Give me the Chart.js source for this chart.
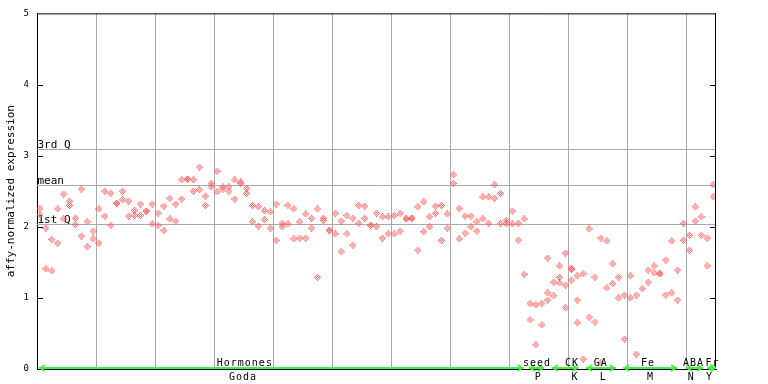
<!DOCTYPE html>
<html>
<head>
<meta charset="utf-8">
<script src="https://cdn.jsdelivr.net/npm/chart.js@4/dist/chart.umd.min.js"></script>
<style>
  html, body { margin: 0; padding: 0; background: #fff; }
</style>
</head>
<body>
<canvas id="myChart" width="768" height="384"></canvas>
<script>
// values per sample (two replicates per sample)
const seriesA = [2.26,1.98,1.82,2.25,2.46,2.36,2.12,2.53,2.07,1.94,
  2.25,2.50,2.47,2.33,2.50,2.36,2.23,2.32,2.22,2.32,
  2.19,2.29,2.40,2.32,2.66,2.67,2.66,2.84,2.43,2.61,
  2.78,2.56,2.56,2.66,2.63,2.54,2.30,2.28,2.23,2.21,
  2.32,2.05,2.30,2.25,2.07,2.18,2.12,2.25,2.12,1.95,
  2.19,2.08,2.16,2.12,2.30,2.29,2.02,2.19,2.14,2.14,
  2.16,2.19,2.11,2.12,2.28,2.35,2.14,2.29,2.30,2.18,
  2.73,2.26,2.15,2.15,2.07,2.42,2.42,2.59,2.47,2.09,
  2.22,2.05,2.11,0.92,0.90,0.92,1.56,1.22,1.45,1.63,
  1.42,1.31,1.34,1.97,1.29,1.84,1.80,1.48,1.29,1.04,
  1.31,1.04,1.13,1.39,1.45,1.34,1.53,1.80,1.39,2.05,
  1.88,2.28,2.14,1.84,2.59];
const seriesB = [2.17,1.41,1.38,1.77,2.11,2.30,2.03,1.87,1.72,1.83,
  1.77,2.15,2.02,2.33,2.38,2.15,2.16,2.16,2.22,2.04,
  2.02,1.95,2.11,2.08,2.39,2.67,2.50,2.52,2.30,2.56,
  2.49,2.53,2.50,2.39,2.61,2.47,2.07,2.01,2.10,1.98,
  1.81,2.00,2.04,1.83,1.84,1.84,1.98,1.29,2.09,1.95,
  1.90,1.65,1.90,1.74,2.05,2.12,2.02,2.00,1.84,1.90,
  1.90,1.94,2.11,2.12,1.67,1.93,2.00,2.19,1.81,1.98,
  2.61,1.83,1.91,2.00,1.94,2.11,2.05,2.40,2.05,2.04,
  2.04,1.81,1.33,0.69,0.34,0.62,0.97,1.03,1.21,0.86,
  1.25,0.65,0.14,0.73,0.66,0.09,1.14,1.20,1.00,0.42,
  1.00,0.21,null,1.22,1.35,1.34,1.04,1.07,0.97,1.81,
  1.67,2.08,1.88,1.45,2.42];
// a few samples have a third replicate
const extraSample = [86, 88, 89, 90, 91];
const extraValues = [1.07, 1.29, 1.18, 1.40, 0.97];

const yTicks = [0, 1, 2, 3, 4, 5];
const xGridAt = [0, 10, 20, 30, 40, 50, 60, 70, 80, 90, 100, 110];
const sampleCount = 115;

const qLabels = ['3rd Q', 'mean', '1st Q'];
const qValues = [3.10, 2.59, 2.04];

// experiment groups along the bottom (in sample units)
const groupNames = ['Hormones', 'seed', 'CK', 'GA', 'Fe', 'ABA', 'Fr'];
const subNames = ['Goda', 'P', 'K', 'L', 'M', 'N', 'Y'];
const groupFrom = [0.3, 83.3, 87.2, 93.0, 99.3, 109.9, 113.5];
const groupTo = [82.4, 85.9, 91.7, 98.0, 108.4, 112.8, 115];
const nameAt = [35.2, 84.7, 90.6, 95.5, 103.5, 111.2, 114.4];
const subAt = [34.9, 84.9, 91.1, 95.9, 103.9, 110.8, 113.9];

const dotColor = '#ff5c5c';
const gridColor = '#aaaaaa';
const green = '#44ee44';
const mono = '"DejaVu Sans Mono", monospace';

// small checkered diamond like the original plot
function diamondDot() {
    const c = document.createElement('canvas');
    c.width = 7; c.height = 7;
    const g = c.getContext('2d');
    g.fillStyle = dotColor;
    for (let yy = 0; yy < 7; yy++) {
        for (let xx = 0; xx < 7; xx++) {
            if (Math.abs(xx - 3) + Math.abs(yy - 3) <= 3 && (xx + yy) % 2 === 1) g.fillRect(xx, yy, 1, 1);
        }
    }
    return c;
}
const dot = diamondDot();

function toPoints(arr) {
    const out = [];
    arr.forEach((v, i) => { if (v !== null) out.push({x: i + 0.5, y: v}); });
    return out;
}

const extraPlugin = {
    id: 'extraPlugin',
    beforeDatasetsDraw(chart) {
        const ctx = chart.ctx, a = chart.chartArea, y = chart.scales.y;
        ctx.save();
        ctx.strokeStyle = gridColor;
        ctx.lineWidth = 1;
        ctx.font = '11px ' + mono;
        ctx.fillStyle = '#000';
        ctx.textAlign = 'left';
        ctx.textBaseline = 'alphabetic';
        qValues.forEach((v, k) => {
            const py = Math.round(y.getPixelForValue(v)) + 0.5;
            ctx.beginPath();
            ctx.moveTo(a.left, py);
            ctx.lineTo(a.right, py);
            ctx.stroke();
            ctx.fillText(qLabels[k], a.left + 0.5, py - 2);
        });
        ctx.restore();
    },
    afterDraw(chart) {
        const ctx = chart.ctx, a = chart.chartArea, x = chart.scales.x, y = chart.scales.y;
        ctx.save();
        // top and right border
        ctx.strokeStyle = '#000';
        ctx.lineWidth = 1;
        ctx.beginPath();
        ctx.moveTo(a.left, a.top + 0.5);
        ctx.lineTo(a.right, a.top + 0.5);
        ctx.moveTo(a.right - 0.5, a.top);
        ctx.lineTo(a.right - 0.5, a.bottom);
        ctx.stroke();
        // inner tick marks on both sides
        ctx.beginPath();
        yTicks.slice(1, -1).forEach(v => {
            const py = Math.round(y.getPixelForValue(v)) + 0.5;
            ctx.moveTo(a.left, py); ctx.lineTo(a.left + 6, py);
            ctx.moveTo(a.right - 6, py); ctx.lineTo(a.right, py);
        });
        ctx.stroke();

        // green group arrows
        const gy = a.bottom - 1;
        ctx.fillStyle = green;
        ctx.strokeStyle = green;
        ctx.lineWidth = 1.5;
        groupNames.forEach((n, k) => {
            const x1 = x.getPixelForValue(groupFrom[k]);
            const x2 = x.getPixelForValue(groupTo[k]);
            ctx.fillRect(x1, gy - 1, x2 - x1, 2);
            ctx.beginPath();
            ctx.moveTo(x1 + 6, gy - 3); ctx.lineTo(x1 + 1, gy); ctx.lineTo(x1 + 6, gy + 3);
            ctx.moveTo(x2 - 6, gy - 3); ctx.lineTo(x2 - 1, gy); ctx.lineTo(x2 - 6, gy + 3);
            ctx.stroke();
        });

        // group labels
        ctx.fillStyle = '#000';
        ctx.font = '10px ' + mono;
        ctx.letterSpacing = '1px';
        ctx.textAlign = 'center';
        ctx.textBaseline = 'alphabetic';
        groupNames.forEach((n, k) => {
            ctx.fillText(n, x.getPixelForValue(nameAt[k]), a.bottom - 3);
            ctx.fillText(subNames[k], x.getPixelForValue(subAt[k]), a.bottom + 11);
        });
        ctx.letterSpacing = '0px';

        // y axis title
        ctx.font = '11px ' + mono;
        ctx.translate(11, (a.top + a.bottom) / 2);
        ctx.rotate(-Math.PI / 2);
        ctx.textBaseline = 'middle';
        ctx.fillText('affy-normalized expression', 0, 0);
        ctx.restore();
    }
};

const extraPoints = extraSample.map((s, k) => ({x: s + 0.5, y: extraValues[k]}));

const ctx = document.getElementById('myChart').getContext('2d');
const chart = new Chart(ctx, {
    type: 'scatter',
    data: {
        datasets: [
            {label: 'rep1', data: toPoints(seriesA), pointStyle: dot, pointRadius: 3.5},
            {label: 'rep2', data: toPoints(seriesB), pointStyle: dot, pointRadius: 3.5},
            {label: 'rep3', data: extraPoints, pointStyle: dot, pointRadius: 3.5}
        ]
    },
    options: {
        responsive: false,
        animation: false,
        events: [],
        layout: {padding: {top: 13, right: 52, bottom: 15, left: 0}},
        plugins: {legend: {display: false}, tooltip: {enabled: false}},
        scales: {
            x: {
                type: 'linear',
                min: 0,
                max: sampleCount,
                afterBuildTicks: s => { s.ticks = xGridAt.map(v => ({value: v})); },
                ticks: {display: false},
                grid: {color: gridColor, drawTicks: false, lineWidth: 1},
                border: {color: '#000', width: 1}
            },
            y: {
                min: 0,
                max: 5,
                afterBuildTicks: s => { s.ticks = yTicks.map(v => ({value: v})); },
                afterFit: s => { s.width = 37; },
                ticks: {color: '#000', font: {family: 'DejaVu Sans Mono', size: 9}, padding: 8},
                grid: {color: 'rgba(0,0,0,0)', drawTicks: false},
                border: {color: '#000', width: 1}
            }
        }
    },
    plugins: [extraPlugin]
});
</script>
</body>
</html>
